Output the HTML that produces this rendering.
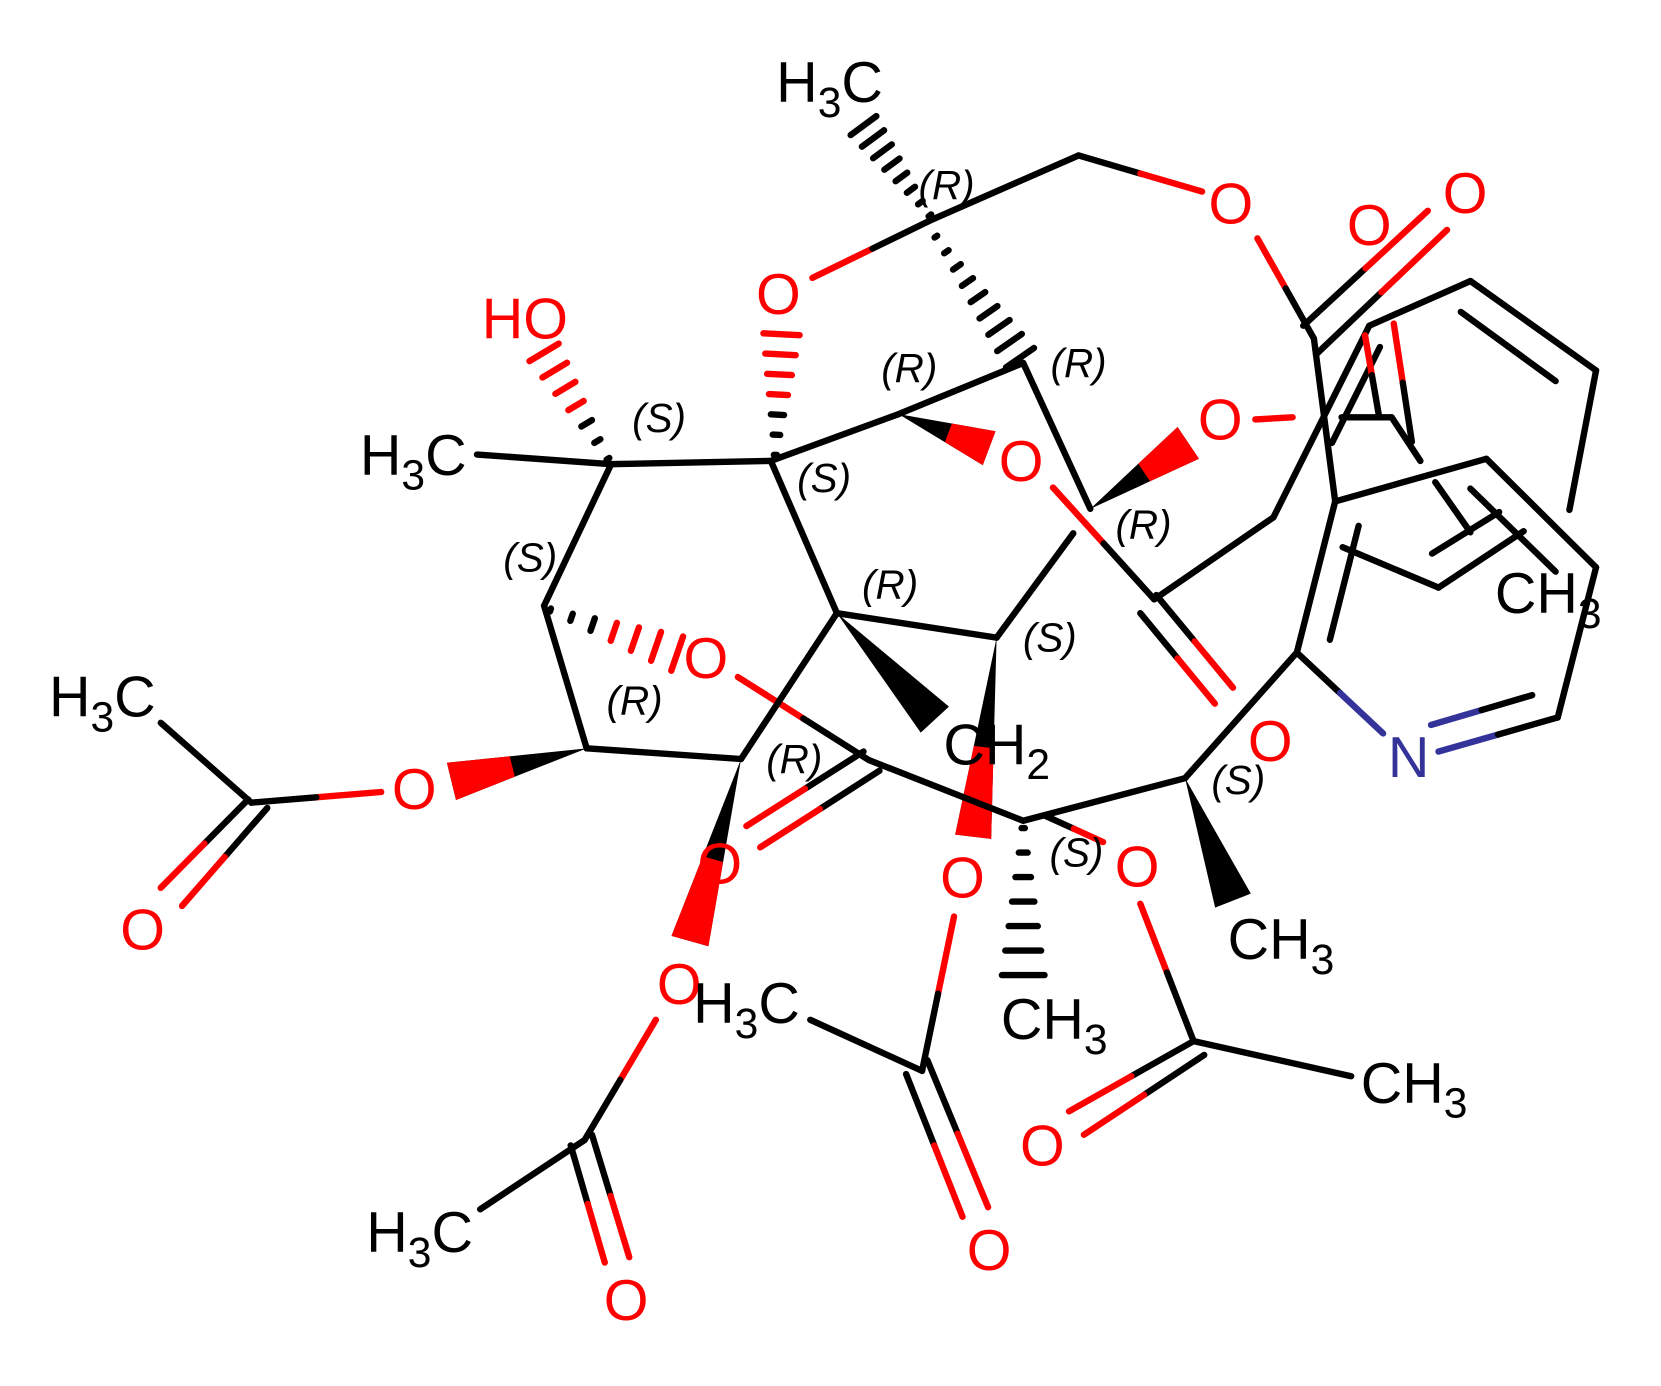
<!DOCTYPE html>
<html><head><meta charset="utf-8">
<style>html,body{margin:0;padding:0;background:#fff;overflow:hidden}svg{display:block}
text{font-family:"Liberation Sans","DejaVu Sans",sans-serif}</style></head>
<body>
<svg id="s" xmlns="http://www.w3.org/2000/svg" width="1661" height="1386" viewBox="4 4 1560 1302" preserveAspectRatio="none">
<rect x="0" y="0" width="1600" height="1320" fill="#fff"/>
<g id="b" stroke-linecap="round"></g>
<g id="t" font-size="54"></g>
</svg>
<script>
var NS="http://www.w3.org/2000/svg",B=document.getElementById("b"),T=document.getElementById("t");
var R="#ff0000",K="#000000",N="#33339a",SW=6;
function el(n,a,p){var e=document.createElementNS(NS,n);for(var k in a)e.setAttribute(k,a[k]);(p||B).appendChild(e);return e;}
function L(x1,y1,x2,y2,c1,c2){c1=c1||K;if(!c2||c2==c1){el("line",{x1:x1,y1:y1,x2:x2,y2:y2,stroke:c1,"stroke-width":SW});return;}
var mx=(x1+x2)/2,my=(y1+y2)/2;el("line",{x1:x1,y1:y1,x2:mx,y2:my,stroke:c1,"stroke-width":SW});el("line",{x1:mx,y1:my,x2:x2,y2:y2,stroke:c2,"stroke-width":SW});}
function W(x1,y1,x2,y2,w,c1,c2){var dx=x2-x1,dy=y2-y1,l=Math.hypot(dx,dy),px=-dy/l*w/2,py=dx/l*w/2;
el("polygon",{points:x1+","+y1+" "+(x2+px)+","+(y2+py)+" "+(x2-px)+","+(y2-py),fill:c1});
if(c2){var t=0.55,ax=x1+dx*t,ay=y1+dy*t;el("polygon",{points:(ax+px*t)+","+(ay+py*t)+" "+(x2+px)+","+(y2+py)+" "+(x2-px)+","+(y2-py)+" "+(ax-px*t)+","+(ay-py*t),fill:c2});}}
function H(x1,y1,x2,y2,w,n,c1,c2){var dx=x2-x1,dy=y2-y1,l=Math.hypot(dx,dy),ux=-dy/l,uy=dx/l;
for(var i=0;i<n;i++){var t=(i+0.3)/(n-0.7);if(t>1)t=1;var cx=x1+dx*t,cy=y1+dy*t,h=Math.max(3,w*t)/2;
el("line",{x1:cx+ux*h,y1:cy+uy*h,x2:cx-ux*h,y2:cy-uy*h,stroke:(c2&&t>0.5)?c2:c1,"stroke-width":SW});}}
H(880,210,815,122,30,8,K);
H(880,222,962,340,32,9,K);
H(732,437,738,318,34,7,K,R);
H(578,440,515,335,32,7,K,R);
H(515,575,640,618,34,7,K,R);
H(965,775,965,920,40,7,K);
W(790,580,882,680,36,K);
W(940,603,918,790,34,K,R);
W(555,707,428,738,36,K,R);
W(700,717,652,888,36,K,R);
W(848,393,933,425,34,K,R);
W(1028,482,1120,420,36,K,R);
W(1117,735,1162,850,36,K);
L(880,210,1017,150);L(1017,150,1133,184,K,R);
L(1185,228,1238,322,R,K);L(1238,322,1258,475);
L(1228,310,1345,202,K,R);L(1240,337,1363,220,K,R);
L(767,265,880,210,R,K);
L(452,431,578,440);L(578,440,728,437);L(578,440,515,573);L(515,573,555,707);L(555,707,700,717);
L(362,748,240,758,R,K);L(240,758,155,683);L(237,755,155,838,K,R);L(255,763,175,855,K,R);
L(697,640,820,718,R,K);L(815,710,705,780,K,R);L(830,728,718,800,K,R);
L(700,717,790,580);L(728,437,790,580);L(728,437,848,393);L(848,393,965,345);L(965,345,1028,482);
L(1012,505,940,603);L(790,580,940,603);
L(993,462,1088,567,R,K);L(1090,563,1162,650,K,R);L(1075,580,1145,665,K,R);
L(1088,567,1200,490);L(1200,490,1290,310);L(1255,420,1300,330);
L(820,718,965,775);L(965,775,1117,735);L(1117,735,1222,617);
L(985,770,1040,795,K,R);
L(1222,617,1303,693,K,N);L(1355,710,1467,678,N,K);L(1348,685,1443,657,N,K);
L(1467,678,1503,537);L(1503,537,1400,435);L(1400,435,1258,475);L(1258,475,1222,617);
L(1253,605,1280,498);L(1385,463,1465,541);
L(1290,310,1385,268);L(1385,268,1503,352);L(1503,352,1478,483);L(1376,297,1465,362);
L(1265,518,1355,556);L(1355,556,1435,503);L(1352,457,1385,504);L(1349,524,1412,485);
L(1183,398,1218,396,R);L(1264,396,1311,396);L(1311,396,1338,437);
L(1286,319,1299,394,R,K);L(1313,308,1330,419,R,K);
L(1075,853,1125,982,R,K);L(1125,982,1273,1015);L(1125,982,1008,1048,K,R);L(1135,995,1022,1070,K,R);
L(900,865,870,1010,R,K);L(870,1010,765,962);L(855,1013,908,1147,K,R);L(875,1000,932,1138,K,R);
L(620,962,553,1075,R,K);L(553,1075,455,1140);L(540,1080,572,1190,K,R);L(560,1070,595,1185,K,R);
function O(x,y,s,c){var e=el("text",{x:x,y:y+19,"text-anchor":"middle",fill:c||R},T);e.textContent=s||"O";}
[[735,280],[963,437],[1160,195],[1380,185],[1290,215],[1150,398],[667,622],[393,745],[138,877],[1197,700],
[680,815],[908,828],[1072,818],[642,928],[983,1080],[933,1178],[592,1225]].forEach(function(p){O(p[0],p[1]);});
O(497,303,"HO");O(1327,715,"N",N);
function G(x,y,a,sub,b){var e=el("text",{x:x,y:y,fill:K},T);e.appendChild(document.createTextNode(a));
var s=el("tspan",{"font-size":"40",dy:"14"},e);s.textContent=sub;if(b){var u=el("tspan",{dy:"-14"},e);u.textContent=b;}}
G(733,100,"H","3","C");G(342,450,"H","3","C");G(50,677,"H","3","C");G(655,965,"H","3","C");G(348,1180,"H","3","C");
G(1408,580,"CH","3");G(890,722,"CH","2");G(1157,905,"CH","3");G(944,980,"CH","3");G(1282,1040,"CH","3");
[["(R)",893,178],["(R)",858,350],["(R)",1017,345],["(S)",623,397],["(S)",778,453],["(S)",502,528],["(R)",840,553],
["(R)",1078,497],["(S)",990,603],["(R)",600,662],["(R)",750,717],["(S)",1167,737],["(S)",1015,805]].forEach(function(p){
var e=el("text",{x:p[1],y:p[2]+13,"text-anchor":"middle","font-size":"38","font-style":"italic",fill:K},T);e.textContent=p[0];});
</script>
</body></html>
